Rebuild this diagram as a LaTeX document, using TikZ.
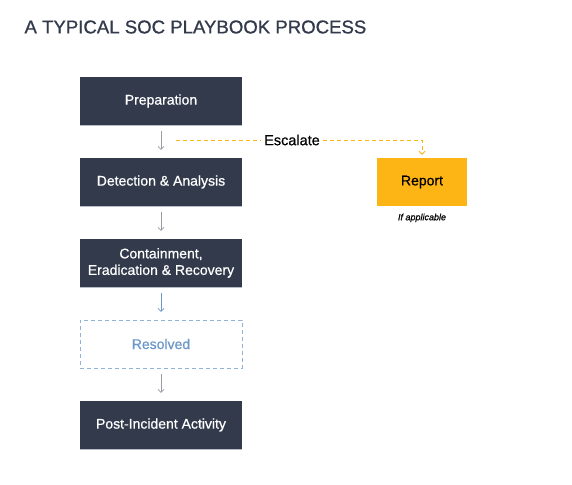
\documentclass[tikz,border=0pt]{standalone}
\usepackage{fontspec}
\setmainfont{Liberation Sans}[FakeBold=0.6]
\newfontfamily\titlefont{Liberation Sans}[FakeBold=0.9]
\usetikzlibrary{arrows.meta, positioning}
\definecolor{navy}{HTML}{323A4C}
\definecolor{amber}{HTML}{FDB515}
\definecolor{steel}{HTML}{6B98C9}
\definecolor{steellight}{HTML}{8FB3DB}
\definecolor{arrowgray}{HTML}{9A9CA5}
\definecolor{edgegray}{HTML}{B8BCC6}
\tikzset{
  stage/.style={rectangle, draw=none, fill=navy, text=white, minimum width=162pt, minimum height=48pt, align=center, font=\fontsize{14}{16.5}\selectfont, inner sep=0pt},
  outcome/.style={rectangle, draw=steellight, dashed, dash pattern=on 4pt off 3pt, fill=white, text=steel, minimum width=162pt, minimum height=48pt, align=center, font=\fontsize{14}{16.5}\selectfont, inner sep=0pt},
  flag/.style={rectangle, fill=amber, text=black, minimum width=90pt, minimum height=48pt, align=center, font=\fontsize{14}{16.5}\selectfont, inner sep=0pt},
  arrow/.style={-{Straight Barb[length=3pt, width=6pt]}, arrowgray, line width=0.7pt},
}

\begin{document}
\begin{tikzpicture}[x=1pt, y=-1pt]
\useasboundingbox[fill=white] (0,0) rectangle (572,484);

% title
\node[anchor=west, text=navy, font=\titlefont\fontsize{18.6}{22}\selectfont] (title) at (21,27) {A TYPICAL SOC PLAYBOOK PROCESS};

% main stages
\node[stage] (prep)    at (161,101) {Preparation};
\node[stage] (detect)  at (161,182) {Detection \& Analysis};
\node[stage] (contain) at (161,263) {Containment,\\Eradication \& Recovery};
\node[outcome] (resolved) at (161,344) {Resolved};
\node[stage] (post)    at (161,425) {Post-Incident Activity};
\foreach \s in {prep,detect,contain,post}{ \draw[edgegray, line width=1pt] (\s.south west) -- (\s.south east); }

% escalation branch
\node[flag] (report) at (422,182) {Report};
\node[below=4pt of report, font=\itshape\fontsize{9}{10}\selectfont] (ifapp) {If applicable};
\node[font=\fontsize{14.5}{16}\selectfont] (escalate) at (292,140) {Escalate};
\coordinate (escstart) at (176,140);

% arrows
\draw[arrow] ([yshift=-6pt]prep.south) -- ([yshift=8pt]detect.north);
\draw[arrow] ([yshift=-6pt]detect.south) -- ([yshift=8pt]contain.north);
\draw[arrow, steel] ([yshift=-6pt]contain.south) -- ([yshift=8pt]resolved.north);
\draw[arrow] ([yshift=-6pt]resolved.south) -- ([yshift=8pt]post.north);
\draw[amber, dashed, dash pattern=on 4pt off 3pt, line width=0.8pt] (escstart) -- (escalate.west);
\draw[amber, dashed, dash pattern=on 4pt off 3pt, line width=0.8pt, -{Straight Barb[length=3pt, width=6pt]}, shorten >=3pt] (escalate.east) -| (report.north);
\end{tikzpicture}
\end{document}
